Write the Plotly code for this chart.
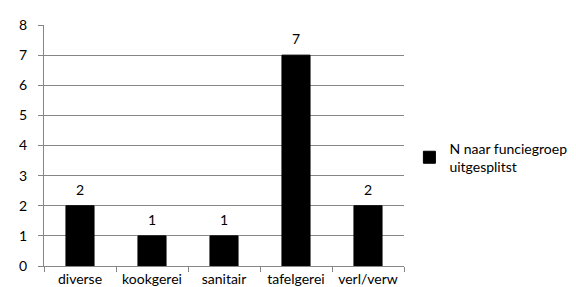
import plotly.graph_objects as go

categories = ["diverse", "kookgerei", "sanitair", "tafelgerei", "verl/verw"]
values = [2, 1, 1, 7, 2]
series_name = "N naar funciegroep<br>uitgesplitst"
y_ticks = [0, 1, 2, 3, 4, 5, 6, 7, 8]

FONT = "Lato, Open Sans, sans-serif"

fig = go.Figure()
fig.add_trace(go.Bar(
    x=categories, y=values, name=series_name,
    marker=dict(color="#000000", line=dict(color="#000000", width=1)),
    showlegend=True,
))
for c, v in zip(categories, values):
    fig.add_annotation(x=c, y=v, text=str(v), showarrow=False,
                       yanchor="bottom", yshift=6,
                       font=dict(family=FONT, size=14, color="#000000"))

fig.update_layout(
    width=576, height=287,
    margin=dict(l=36, r=167, t=17, b=29),
    paper_bgcolor="white", plot_bgcolor="white",
    font=dict(family=FONT, size=14, color="#000000"),
    bargap=0.61,
    showlegend=True,
    legend=dict(x=1.015, y=0.45, xanchor="left", yanchor="middle",
                font=dict(family=FONT, size=14, color="#000000"),
                bgcolor="rgba(0,0,0,0)"),
)
fig.update_xaxes(
    showline=True, linecolor="#868686", linewidth=1,
    ticks="outside", tickson="boundaries", ticklen=5, tickcolor="#868686",
    showgrid=False, tickfont=dict(family=FONT, size=14, color="#000000"),
    ticklabelstandoff=0, automargin=False,
)
fig.update_yaxes(
    range=[0, 8], tickvals=y_ticks, showline=True, linecolor="#868686", linewidth=1,
    ticks="outside", ticklen=5, tickcolor="#868686",
    showgrid=True, gridcolor="#868686", gridwidth=1, zeroline=False,
    tickfont=dict(family=FONT, size=14, color="#000000"),
    ticklabelstandoff=8, automargin=False,
)

fig.write_html("out.html")
